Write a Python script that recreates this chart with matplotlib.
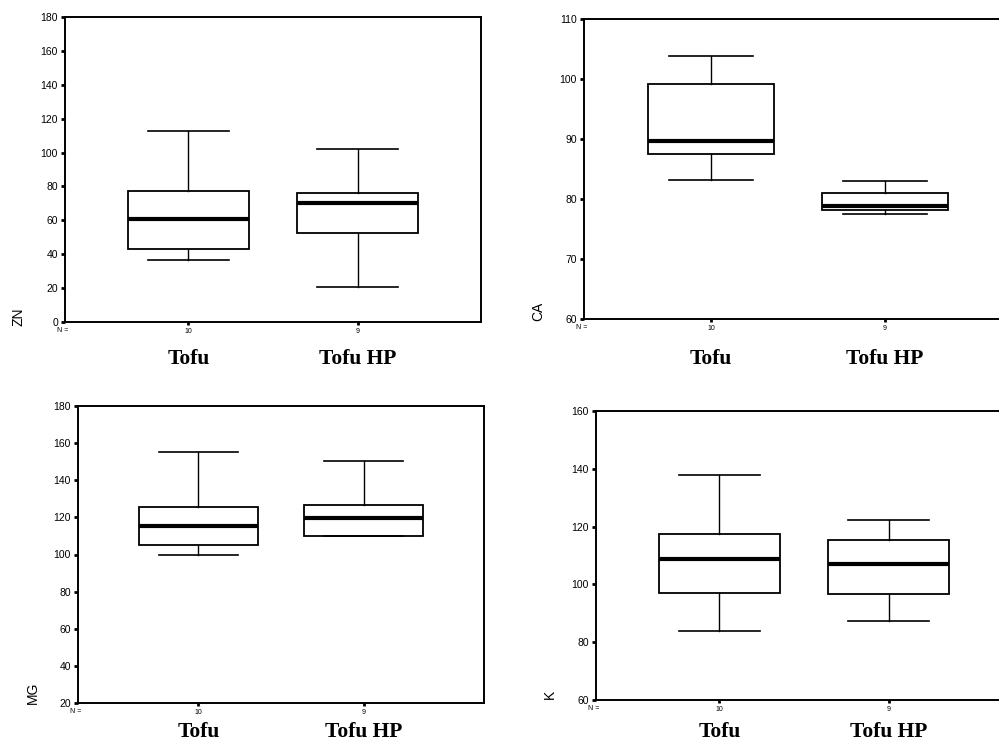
import matplotlib.pyplot as plt
from matplotlib.ticker import MultipleLocator

plt.rcParams['font.family'] = ['Liberation Sans', 'DejaVu Sans']

groups = ['Tofu', 'Tofu HP']
n_labels = ['10', '9']

# five-number summaries: low whisker, Q1, median, Q3, high whisker
zn_tofu = [36.5, 43.3, 60.6, 77.6, 112.6]
zn_tofuhp = [20.8, 52.8, 70.2, 76.1, 102.2]
ca_tofu = [83.2, 87.5, 89.7, 99.1, 103.8]
ca_tofuhp = [77.5, 78.2, 78.9, 81.0, 83.0]
mg_tofu = [99.8, 105.0, 115.5, 125.7, 155.3]
mg_tofuhp = [109.8, 109.8, 119.5, 126.8, 150.6]
k_tofu = [84.0, 97.1, 108.8, 117.3, 138.0]
k_tofuhp = [87.5, 96.6, 107.2, 115.4, 122.4]


def stats(vals, name):
    lo, q1, med, q3, hi = vals
    return dict(label=name, whislo=lo, q1=q1, med=med, q3=q3, whishi=hi, fliers=[])


def panel(fig, rect, data, ylab, ylim, ystep, lab_xy, name_dy):
    W, H = 999.0, 744.0
    left, top, right, bottom = rect
    ax = fig.add_axes([left / W, 1 - bottom / H, (right - left) / W, (bottom - top) / H])
    bs = [stats(d, g) for d, g in zip(data, groups)]
    ax.bxp(bs, positions=[1, 2], widths=0.72, capwidths=0.48, patch_artist=True,
           showfliers=False,
           boxprops=dict(facecolor='white', edgecolor='black', linewidth=1.3),
           medianprops=dict(color='black', linewidth=3),
           whiskerprops=dict(color='black', linewidth=1),
           capprops=dict(color='black', linewidth=1.2))
    ax.set_xlim(0.27, 2.73)
    ax.set_ylim(*ylim)
    ax.yaxis.set_major_locator(MultipleLocator(ystep))
    ax.set_xticks([1, 2])
    ax.set_xticklabels(n_labels, fontsize=5)
    ax.tick_params(axis='x', length=2, width=2, pad=2)
    ax.tick_params(axis='y', length=3, width=2, pad=2, labelsize=7.5)
    for s in ax.spines.values():
        s.set_linewidth(1.4)
        s.set_color('black')
    ax.set_ylabel(ylab, fontsize=10, rotation=90)
    ax.yaxis.set_label_coords(*lab_xy)
    ax.text(-0.005, -0.028, 'N =', transform=ax.transAxes, fontsize=5, ha='center', va='center')
    for p, g in zip([1, 2], groups):
        ax.annotate(g, xy=(p, 0), xycoords=('data', 'axes fraction'),
                    xytext=(0, name_dy), textcoords='offset pixels',
                    ha='center', va='center', fontsize=15.5, fontweight='bold',
                    family=['Liberation Serif', 'DejaVu Serif'])
    return ax


fig = plt.figure(figsize=(9.99, 7.44), dpi=100)

panel(fig, (65, 17, 481, 322), [zn_tofu, zn_tofuhp], 'ZN', (0, 180), 20, (-0.096, 0.016), -37)
panel(fig, (584, 19, 1012, 319), [ca_tofu, ca_tofuhp], 'CA', (60, 110), 10, (-0.091, 0.025), -40)
panel(fig, (78, 406, 484, 703), [mg_tofu, mg_tofuhp], 'MG', (20, 180), 20, (-0.094, 0.035), -29)
panel(fig, (596, 411, 1012, 700), [k_tofu, k_tofuhp], 'K', (60, 160), 20, (-0.094, 0.02), -32)

plt.savefig('out.png', dpi=100)
